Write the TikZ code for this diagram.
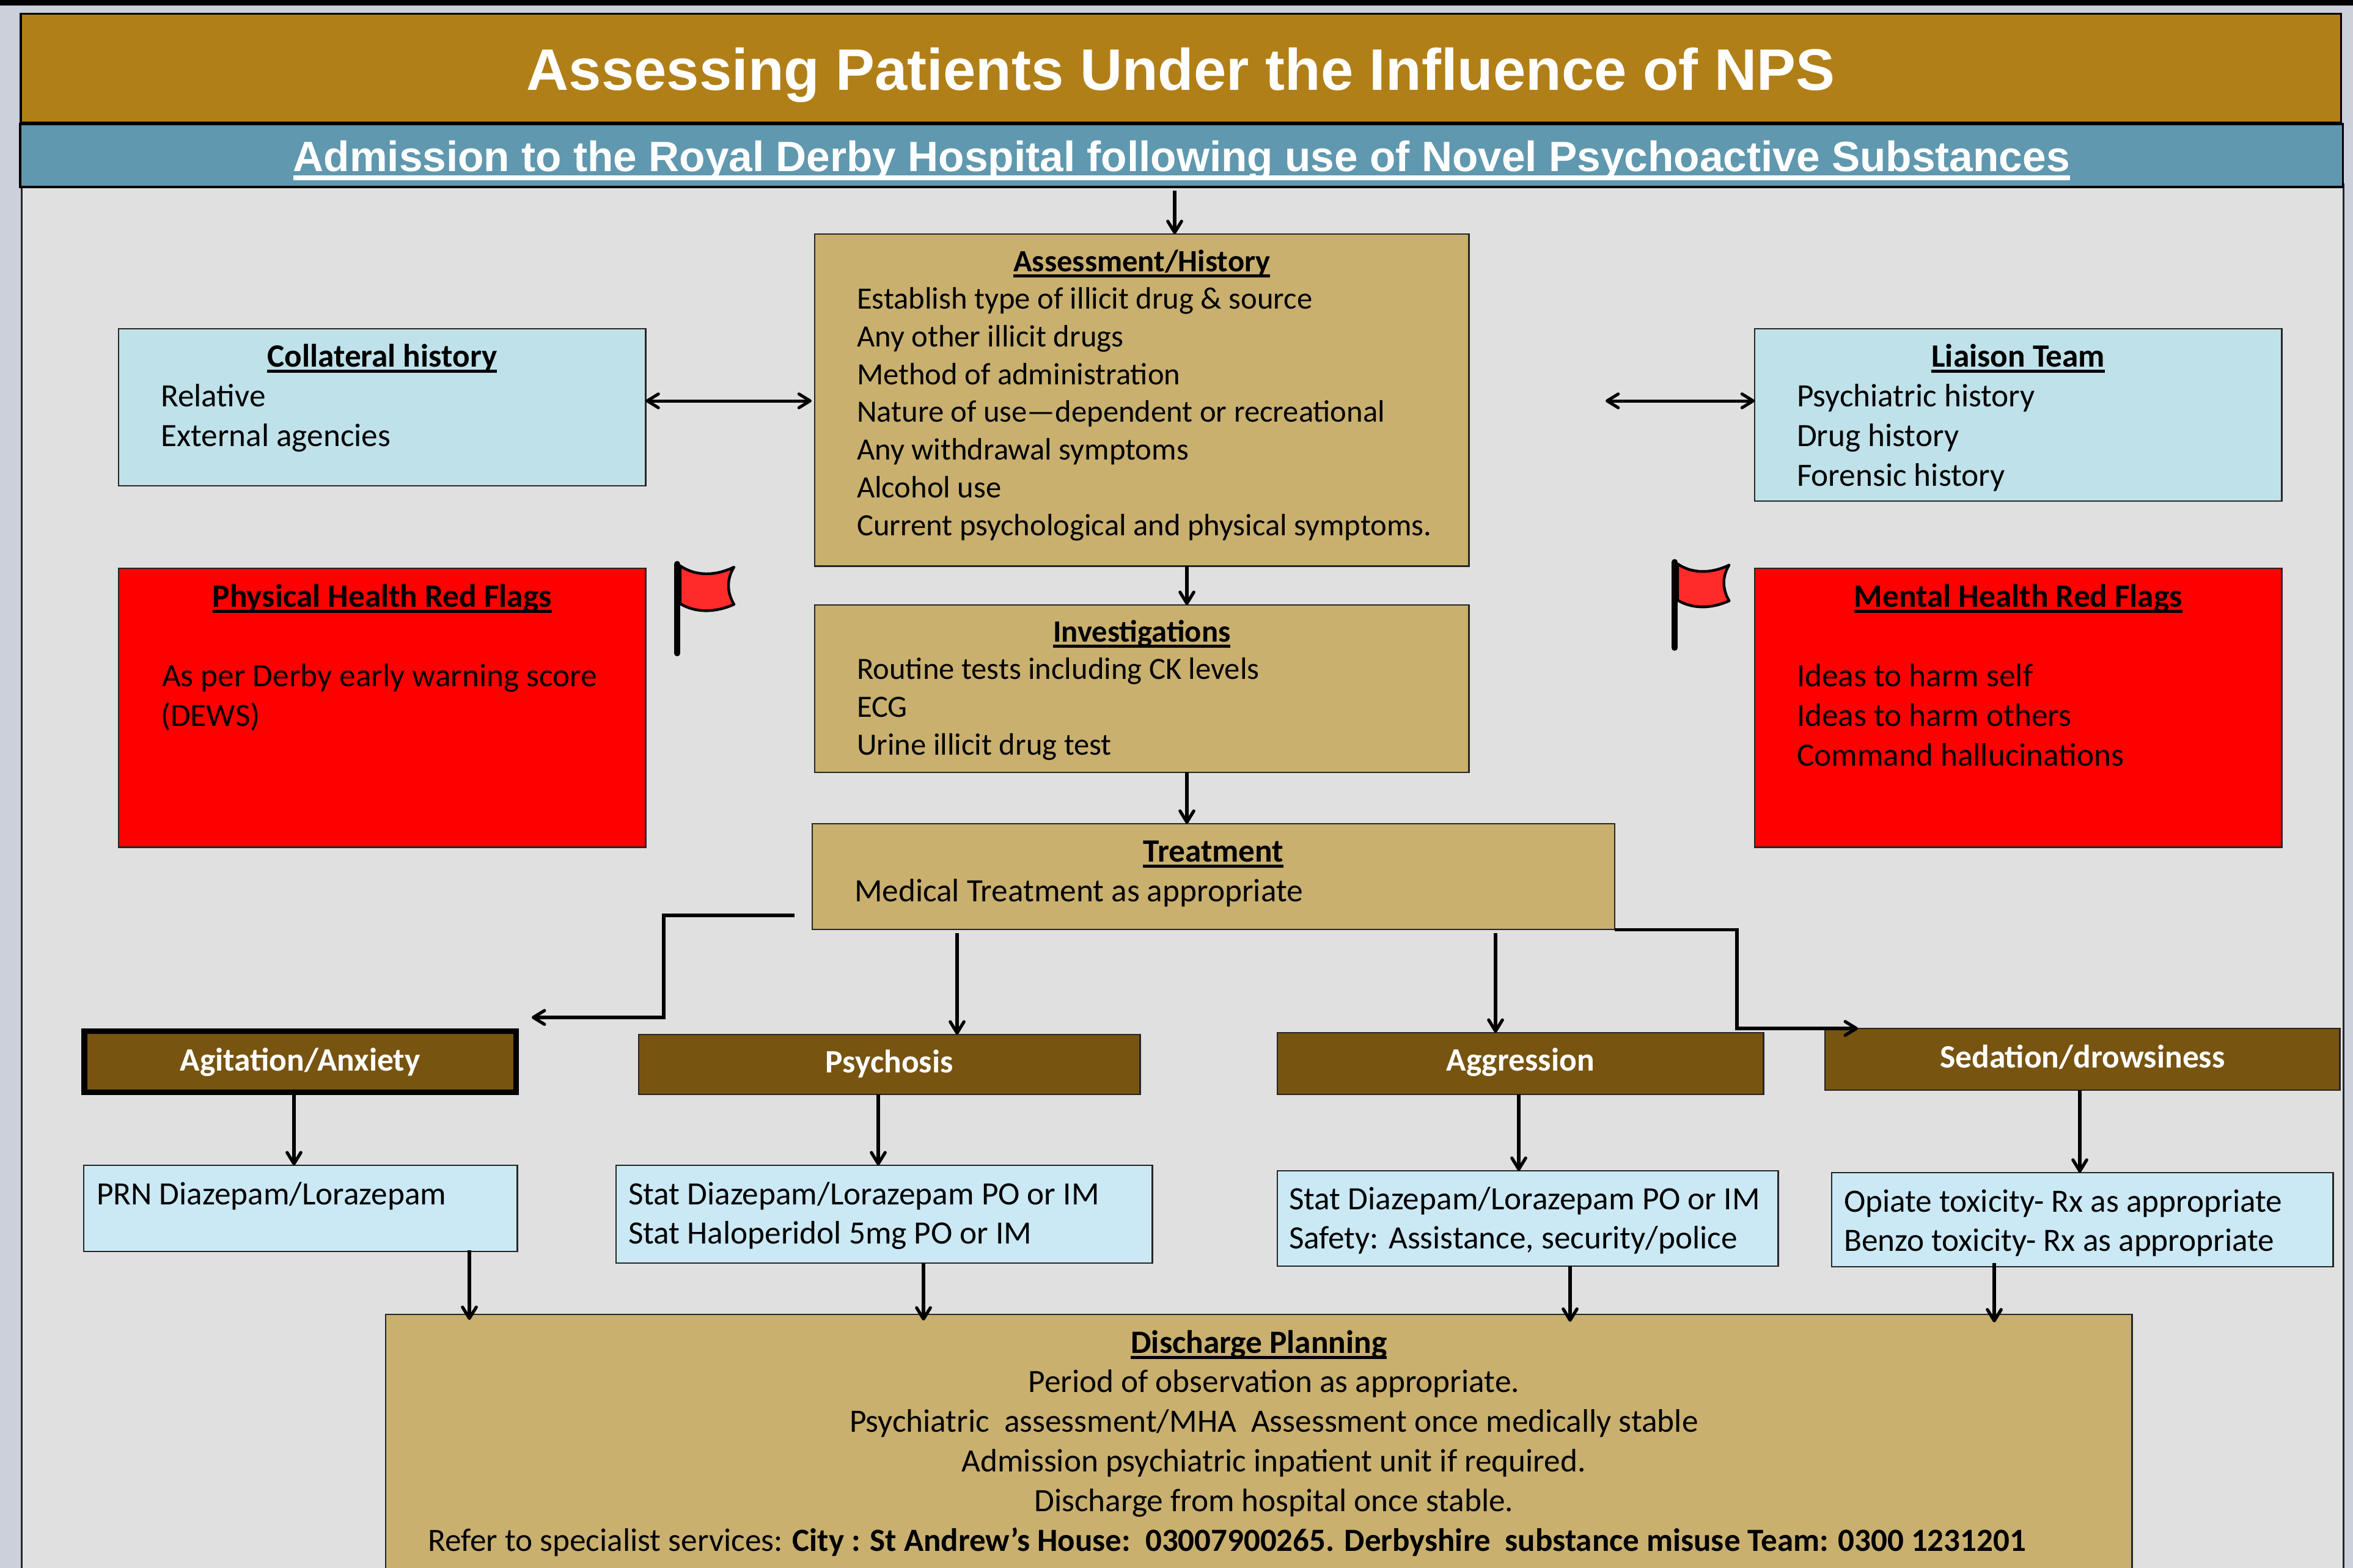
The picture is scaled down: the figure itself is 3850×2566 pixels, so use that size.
\documentclass[tikz,border=0pt]{standalone}
\usepackage{fontspec}
\usetikzlibrary{arrows.meta,calc}
\setmainfont{Carlito}
\newfontfamily\headfont{Liberation Sans}
\newdimen\pxu \pxu=0.284528pt
\newdimen\BXw \newdimen\BXh \newdimen\BXd \newdimen\BXbs
\definecolor{pagebg}{HTML}{CBD0DA}
\definecolor{panelbg}{HTML}{E0E0E0}
\definecolor{titlebg}{HTML}{B17F18}
\definecolor{subbg}{HTML}{5F98AF}
\definecolor{tan}{HTML}{C9B06F}
\definecolor{paleblue}{HTML}{BFE1EA}
\definecolor{lightblue}{HTML}{CBE9F5}
\definecolor{brown}{HTML}{775410}
\definecolor{flagred}{HTML}{FF2A2A}
\newcommand\Ustrut{\rule[-.2\BXbs]{0pt}{\BXbs}}
\newcommand\hul[1]{\setbox0\hbox{#1}\rlap{\rule[-10\pxu]{\wd0}{5\pxu}}\box0}
\newcommand\lineH[1]{\hbox to\BXw{\hss\Ustrut\hul{\bfseries #1}\hss}}
\newcommand\lineL[2][69]{\hbox{\hskip#1\pxu\Ustrut #2}}
\newcommand\lineC[2][49]{\hbox to\BXw{\hss\Ustrut #2\hss\hskip-#1\pxu}}
\newcommand\lineB{\hbox{\Ustrut}}
% name, style, x0, y0, x1, y1, first baseline, baseline skip, content
\newcommand\bx[9]{%
  \BXw=\numexpr#5-#3\relax\pxu
  \BXh=\numexpr#6-#4\relax\pxu
  \BXbs=#8\pxu
  \BXd=\dimexpr\numexpr#7-#4\relax\pxu-.8\BXbs\relax
  \node[#2,anchor=north west,inner sep=0pt,outer sep=0pt] (#1) at (#3,#4)
    {\begin{minipage}[c][\BXh][t]{\BXw}\fontsize{\bodysize}{#8\pxu}\selectfont
     \baselineskip=\BXbs \lineskip=0pt \hrule width\BXw height0pt \vspace*{\BXd}#9\end{minipage}};}
\def\bodysize{15.15pt}
\tikzset{
  boxline/.style={draw=black!85,line width=2.5\pxu},
  tanbox/.style={boxline,fill=tan},
  palebox/.style={boxline,fill=paleblue},
  lightbox/.style={boxline,fill=lightblue},
  redbox/.style={boxline,fill=red},
  brownlabel/.style={boxline,fill=brown,text=white,inner sep=0pt,outer sep=0pt,anchor=north west,
     font=\fontsize{15.2pt}{18pt}\selectfont\bfseries},
  arr/.style={line width=5.2\pxu,draw=black,-{Straight Barb[round,length=5.2pt,width=6.4pt]}},
  dblarr/.style={line width=5\pxu,draw=black,{Straight Barb[round,length=5.2pt,width=6.4pt]}-{Straight Barb[round,length=5.2pt,width=6.4pt]}},
  elbowarr/.style={arr,line join=miter},
  pics/redflag/.style={code={
    \draw[line width=4.4\pxu,line join=round,fill=flagred]
      (5,7) .. controls (30,24) and (62,24) .. (93,9)
      .. controls (81,28) and (81,50) .. (93,70)
      .. controls (62,84) and (30,84) .. (5,69) -- cycle;
    \draw[line width=10\pxu,line cap=round] (0,4) -- (0,150);
  }},
}
\begin{document}
\begin{tikzpicture}[x=0.01cm,y=-0.01cm]
\useasboundingbox (0,0) rectangle (3850,2566);
\clip (0,0) rectangle (3850,2566);
\fill[pagebg] (0,0) rectangle (3850,2566);
\fill[black] (0,0) rectangle (3850,9);
% panels
\node[draw=black!85,line width=2.5\pxu,fill=panelbg,anchor=north west,inner sep=0pt,minimum width=3797\pxu,minimum height=2300\pxu] (panel) at (34,300) {};
\node[draw=black,line width=3\pxu,fill=titlebg,anchor=north west,inner sep=0pt,outer sep=0pt,minimum width=3794\pxu,minimum height=178\pxu,text=white,text height=72\pxu,text depth=0pt,font=\headfont\bfseries\fontsize{27.25pt}{30pt}\selectfont] (title) at (34,22) {Assessing Patients Under the Influence of NPS};
\node[draw=black,line width=3.5\pxu,fill=subbg,anchor=north west,inner sep=0pt,outer sep=0pt,minimum width=3798\pxu,minimum height=103\pxu,text=white,text height=51\pxu,text depth=0pt,font=\headfont\bfseries\fontsize{19.73pt}{24pt}\selectfont] (sub) at (33,203) {\setbox0\hbox{Admission to the Royal Derby Hospital following use of Novel Psychoactive Substances}\rlap{\rule[-15\pxu]{\wd0}{8\pxu}}\box0};

\bx{collat}{palebox}{194}{538}{1056}{795}{600}{65}{\lineH{Collateral history}\lineL{Relative}\lineL{External agencies}}
\bx{liaison}{palebox}{2871}{538}{3733}{820}{600}{65}{\lineH{Liaison Team}\lineL{Psychiatric history}\lineL{Drug history}\lineL{Forensic history}}
\def\bodysize{14.4pt}
\bx{assess}{tanbox}{1333}{383}{2403}{926}{444}{61.7}{\lineH{Assessment/History}\lineL{Establish type of illicit drug \& source}\lineL{Any other illicit drugs}\lineL{Method of administration}\lineL{Nature of use---dependent or recreational}\lineL{Any withdrawal symptoms}\lineL{Alcohol use}\lineL{Current psychological and physical symptoms.}}
\def\bodysize{15.15pt}
\bx{physflags}{redbox}{194}{930}{1056}{1386}{993}{65}{\lineH{Physical Health Red Flags}\lineB\lineL[71]{As per Derby early warning score}\lineL{(DEWS)}}
\bx{mentalflags}{redbox}{2871}{930}{3733}{1386}{993}{65}{\lineH{Mental Health Red Flags}\lineB\lineL{Ideas to harm self}\lineL{Ideas to harm others}\lineL{Command hallucinations}}
\def\bodysize{14.4pt}
\bx{invest}{tanbox}{1333}{990}{2403}{1264}{1050}{61.7}{\lineH{Investigations}\lineL{Routine tests including CK levels}\lineL{ECG}\lineL{Urine illicit drug test}}
\def\bodysize{15.15pt}
\bx{treat}{tanbox}{1329}{1348}{2641}{1521}{1410}{65}{\lineH{Treatment}\lineL{Medical Treatment as appropriate}}

\node[brownlabel,draw=black,line width=9\pxu,minimum width=706\pxu,minimum height=100\pxu,text height=30\pxu,text depth=0pt] (agit) at (138,1687) {Agitation/Anxiety};
\node[brownlabel,minimum width=820\pxu,minimum height=98\pxu,text height=26\pxu,text depth=0pt] (psych) at (1045,1693) {Psychosis};
\node[brownlabel,minimum width=795\pxu,minimum height=101\pxu,text height=23\pxu,text depth=0pt] (aggr) at (2090,1690) {Aggression};
\node[brownlabel,minimum width=842\pxu,minimum height=101\pxu,text height=27\pxu,text depth=0pt] (sedat) at (2986,1683) {Sedation/drowsiness};

\bx{prn}{lightbox}{137}{1907}{846}{2048}{1971}{64}{\lineL[21]{PRN Diazepam/Lorazepam}}
\bx{statbox}{lightbox}{1008}{1907}{1885}{2067}{1971}{64}{\lineL[20]{Stat Diazepam/Lorazepam PO or IM}\lineL[20]{Stat Haloperidol 5mg PO or IM}}
\bx{safety}{lightbox}{2090}{1916}{2909}{2072}{1979}{64}{\lineL[19]{Stat Diazepam/Lorazepam PO or IM}\lineL[19]{Safety: Assistance, security/police}}
\bx{opiate}{lightbox}{2997}{1919}{3817}{2073}{1983}{64}{\lineL[20]{Opiate toxicity- Rx as appropriate}\lineL[20]{Benzo toxicity- Rx as appropriate}}
\bx{discharge}{tanbox}{631}{2151}{3487}{2590}{2214}{64.8}{\lineH{Discharge Planning}\lineC{Period of observation as appropriate.}\lineC{Psychiatric\ \ assessment/MHA\ \ Assessment once medically stable}\lineC{Admission psychiatric inpatient unit if required.}\lineC{Discharge from hospital once stable.}\lineL{Refer to specialist services: {\fontsize{15.06pt}{64.8\pxu}\selectfont\bfseries City : St Andrew’s House:\ \ 03007900265. Derbyshire\ \ substance misuse Team: 0300 1231201}}}

% flags
\pic at (1108,919) {redflag};
\pic[scale=0.96] at (2740,916) {redflag};

% helper coordinates
\coordinate (xtop) at (1922,0);
\coordinate (xmid) at (1942,0);
\coordinate (xpsy) at (1566,0);
\coordinate (xagg) at (2447,0);
\coordinate (xa1) at (481,0);
\coordinate (xa2) at (1437,0);
\coordinate (xa3) at (2485,0);
\coordinate (xa4) at (3403,0);
\coordinate (xd1) at (768,0);
\coordinate (xd2) at (1511,0);
\coordinate (xd3) at (2569,0);
\coordinate (xd4) at (3263,0);
\coordinate (xsedend) at (3040,0);
\coordinate (xsedmid) at (2842,0);
\coordinate (yrow) at (0,656);
\coordinate (liaisonfree) at (2627,656);
\coordinate (treatstub) at (1300,1498);
\coordinate (agitbend) at (1086,1498);
\coordinate (agitfree) at (870,1665);

% connectors
\draw[arr] ([yshift=-6\pxu]xtop |- sub.south) -- (xtop |- assess.north);
\draw[arr] (xmid |- assess.south) -- (xmid |- invest.north);
\draw[arr] (xmid |- invest.south) -- (xmid |- treat.north);
\draw[dblarr] (collat.east |- yrow) -- ([xshift=-5\pxu]assess.west |- yrow);
\draw[dblarr] (liaisonfree) -- (liaison.west |- yrow);
\draw[elbowarr] (treatstub) -- (agitbend) -- (agitbend |- agitfree) -- (agitfree);
\draw[arr] ([yshift=-6\pxu]xpsy |- treat.south) -- (xpsy |- psych.north);
\draw[arr] ([yshift=-6\pxu]xagg |- treat.south) -- (xagg |- aggr.north);
\draw[elbowarr] (treat.south east) -- (xsedmid |- treat.south) -- (xsedmid |- sedat.north) -- (xsedend |- sedat.north);
\draw[arr] (xa1 |- agit.south) -- (xa1 |- prn.north);
\draw[arr] (xa2 |- psych.south) -- (xa2 |- statbox.north);
\draw[arr] (xa3 |- aggr.south) -- (xa3 |- safety.north);
\draw[arr] (xa4 |- sedat.south) -- (xa4 |- opiate.north);
\draw[arr] ([yshift=2\pxu]xd1 |- prn.south) -- ([yshift=-9\pxu]xd1 |- discharge.north);
\draw[arr] (xd2 |- statbox.south) -- ([yshift=-10\pxu]xd2 |- discharge.north);
\draw[arr] (xd3 |- safety.south) -- ([yshift=-12\pxu]xd3 |- discharge.north);
\draw[arr] ([yshift=6\pxu]xd4 |- opiate.south) -- ([yshift=-13\pxu]xd4 |- discharge.north);
\end{tikzpicture}
\end{document}
